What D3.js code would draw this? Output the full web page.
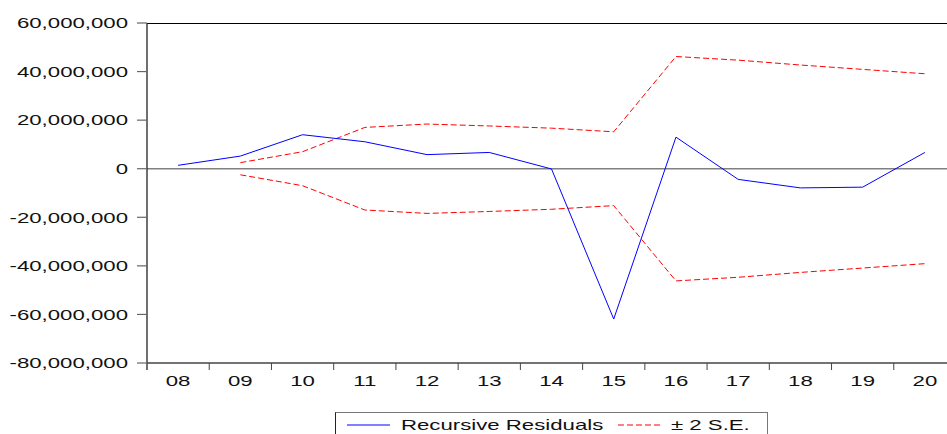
<!DOCTYPE html>
<html>
<head>
<meta charset="utf-8">
<script src="https://cdn.jsdelivr.net/npm/d3@7"></script>
<style>
  html, body { margin: 0; padding: 0; background: #fff; overflow: hidden; }
  svg { display: block; }
  text { font-family: "Liberation Sans", Arial, sans-serif; fill: #111; }
</style>
</head>
<body>
<svg id="chart" width="947" height="434"></svg>
<script>
// Years (two-digit labels)
const categories = ["08", "09", "10", "11", "12", "13", "14", "15", "16", "17", "18", "19", "20"];
// Recursive residuals
const residuals = [1400000, 5200000, 14000000, 11100000, 5800000, 6700000, -100000, -61900000, 13000000, -4400000, -7900000, -7600000, 6700000];
// Two standard-error band (upper = +band, lower = -band); none for the first year
const bandYears = ["09", "10", "11", "12", "13", "14", "15", "16", "17", "18", "19", "20"];
const band = [2500000, 7000000, 17000000, 18400000, 17600000, 16700000, 15200000, 46200000, 44700000, 42700000, 40900000, 39100000];
// Y axis ticks and labels
const yTicks = [60000000, 40000000, 20000000, 0, -20000000, -40000000, -60000000, -80000000];
const yTickLabels = ["60,000,000", "40,000,000", "20,000,000", "0", "-20,000,000", "-40,000,000", "-60,000,000", "-80,000,000"];
const legendLabels = ["Recursive Residuals", "\u00b1 2 S.E."];

const svg = d3.select("#chart");
const plotL = 147, plotR = 956, plotT = 23, plotB = 363;
const sx = 1.48; // horizontal text stretch

const x = d3.scaleBand().domain(categories).range([plotL, plotR]).padding(0);
const y = d3.scaleLinear().domain([-80000000, 60000000]).range([plotB, plotT]);
const cx = d => x(d) + x.bandwidth() / 2;

// frame: top border
svg.append("line").attr("x1", plotL).attr("x2", plotR).attr("y1", plotT + 0.5).attr("y2", plotT + 0.5)
  .attr("stroke", "#000").attr("stroke-width", 1);

// zero line
svg.append("line").attr("x1", plotL).attr("x2", plotR).attr("y1", y(0)).attr("y2", y(0))
  .attr("stroke", "#808080").attr("stroke-width", 1.5);

// Y axis
const yAxis = svg.append("g");
yAxis.append("line").attr("x1", plotL).attr("x2", plotL).attr("y1", plotT).attr("y2", plotB + 7)
  .attr("stroke", "#222").attr("stroke-width", 1.3);
yTicks.forEach((t, i) => {
  yAxis.append("line").attr("x1", plotL - 10).attr("x2", plotL).attr("y1", y(t)).attr("y2", y(t))
    .attr("stroke", "#666").attr("stroke-width", 1.2);
  yAxis.append("text")
    .attr("transform", `translate(128,${y(t) + 5.3}) scale(${sx},1)`)
    .attr("text-anchor", "end").attr("font-size", 15)
    .text(yTickLabels[i]);
});

// X axis
const xAxis = svg.append("g");
xAxis.append("line").attr("x1", plotL).attr("x2", plotR).attr("y1", plotB).attr("y2", plotB)
  .attr("stroke", "#444").attr("stroke-width", 1.3);
categories.forEach((c, i) => {
  if (i > 0) {
    xAxis.append("line").attr("x1", x(c)).attr("x2", x(c)).attr("y1", plotB).attr("y2", plotB + 7)
      .attr("stroke", "#444").attr("stroke-width", 1);
  }
  xAxis.append("text")
    .attr("transform", `translate(${cx(c)},${386}) scale(${sx},1)`)
    .attr("text-anchor", "middle").attr("font-size", 15)
    .text(c);
});

// bands
const seriesLine = d3.line().x(d => cx(d[0])).y(d => y(d[1]));
const upper = bandYears.map((c, i) => [c, band[i]]);
const lower = bandYears.map((c, i) => [c, -band[i]]);
[upper, lower].forEach(pts => {
  svg.append("path").attr("d", seriesLine(pts))
    .attr("fill", "none").attr("stroke", "#ff0000").attr("stroke-width", 1)
    .attr("stroke-dasharray", "6,3");
});

// residuals
const resPts = categories.map((c, i) => [c, residuals[i]]);
svg.append("path").attr("d", seriesLine(resPts))
  .attr("fill", "none").attr("stroke", "#0000ff").attr("stroke-width", 1);

// legend
const lg = svg.append("g");
lg.append("rect").attr("x", 335.5).attr("y", 412.5).attr("width", 432).attr("height", 40)
  .attr("fill", "#fff").attr("stroke", "#777").attr("stroke-width", 1);
lg.append("line").attr("x1", 335.5).attr("x2", 335.5).attr("y1", 412.5).attr("y2", 434)
  .attr("stroke", "#222").attr("stroke-width", 1);
lg.append("line").attr("x1", 347).attr("x2", 390).attr("y1", 425).attr("y2", 425)
  .attr("stroke", "#0000ff").attr("stroke-width", 1);
lg.append("text").attr("transform", `translate(401,429.5) scale(${sx},1)`)
  .attr("font-size", 15).text(legendLabels[0]);
lg.append("line").attr("x1", 618).attr("x2", 663).attr("y1", 425).attr("y2", 425)
  .attr("stroke", "#ff0000").attr("stroke-width", 1).attr("stroke-dasharray", "6,3");
lg.append("text").attr("transform", `translate(671,429.5) scale(${sx},1)`)
  .attr("font-size", 15).text(legendLabels[1]);
</script>
</body>
</html>
